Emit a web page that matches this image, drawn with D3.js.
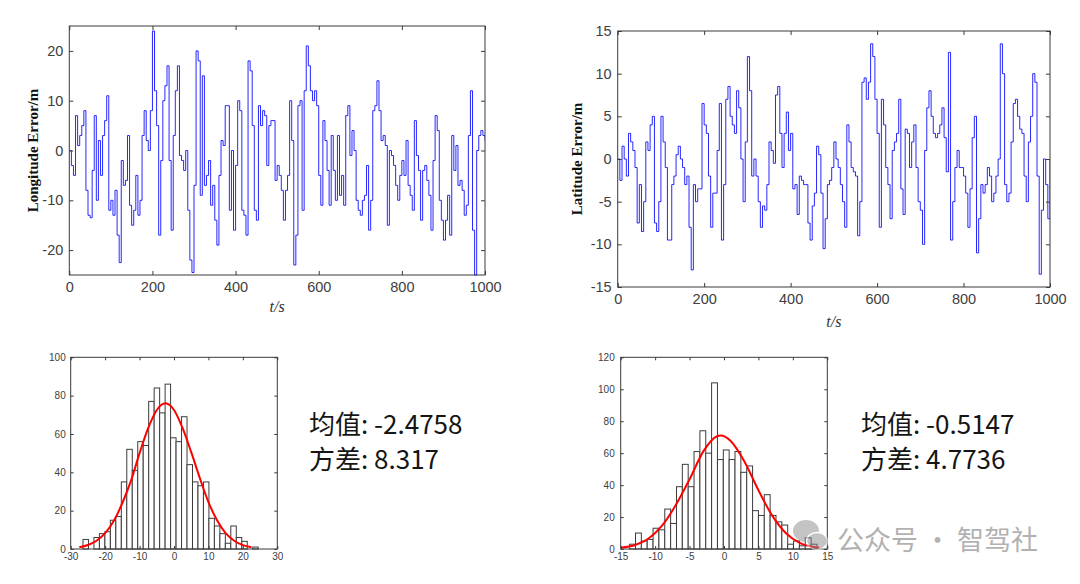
<!DOCTYPE html>
<html>
<head>
<meta charset="utf-8">
<script src="https://cdn.jsdelivr.net/npm/d3@7"></script>
<style>
  body { margin: 0; background: #fff; }
  svg { display: block; }
</style>
</head>
<body>
<svg id="chart" width="1080" height="584"></svg>
<script>

// errors sampled every 5 s, t = 0 .. 1000
const lonErr = [
  0, -3, -5, 7, 1, 3, 5, 8, -8, -13,
  -13.5, -4, 7, -10, 2, -5, 3, 6, 11, -12,
  -10, -13, -8, -17, -22.5, -2, -7, -6, 3, -11,
  -15, -12, -5, -13, -10, 3, 8, 2, 0, 8,
  24, 12, 5, -17, -2, 10, 13, 17, -2, -16,
  3, 12, 17, -1, -2, -4, 0, -12, -22, -24.5,
  -7, 20, 18, -9, 15, -7, -5, -2, -11, -7,
  -14, -19, -5, 2, 1, 9, 9, -12, 0, -16,
  -3, 10, 8, -12, -13, -17, 18, 16, 5, -12,
  -14, 9, 5, 8, 7, -3, 5, 6, 6, -6,
  -3, -5, -8, -14, -8, -5, 10, 2, -23, -17,
  9, 10, -12, 12, 21, 17, 12, 10, 12, 9,
  -5, -11, 6, 2, -4, -11, 3, -4, -10, 3,
  -9, -5, -11, 7, 9, -1, 4, 0, -10, -12,
  -13, -10, -9, -3, -16, -10, 8, 9, 14, 8,
  2, 3, 1, -15, 0, -1, -3, -7, -10, -5,
  -2, -5, 2, -7, -9, -12, 6, -1, -4, -14,
  -4, -3, -6, -9, -16, -2, 7, 4, -10, -14,
  -18, -14, -9, -17, 3, -4, 1, -7, -6, -8,
  -13, -11, 3, 12, -16, -25, 0, 3, 4, 3,
  2
];

const latErr = [
  0, -2.5, 1.5, 0, -2, 3, 2, 1, -1, -7.5,
  -3, -8.5, -5, 2, 1, 4, 5, -7.5, -8.5, -5,
  5, 2, -1, -9.5, -9.5, -3, -2, 0.5, 1.5, 0,
  -1, -3, -2, -8, -13, -3, -5, -3.5, -3.5, 6.5,
  4, 3, -2, -8, -4, -4, 1, 6.5, -9.5, -3,
  7, 8.5, 5, 4, 3, 8, 6, 0, -5, 2,
  12, 8, -2, 0, -2, -5, -8, -5.5, -6, -3,
  2, 1, -0.5, 7.5, 8.5, 3, -1, 3, 5.5, 1,
  3, -3.5, -3, -6.5, -2, -2.5, -3, -3, -7.5, -9.5,
  -5.5, -4, 1.5, 0.5, -4, -10.5, -7, -3, -2.5, -1,
  2, 0, -1, -3, -5, -8, 4, 2, -1, -1.5,
  -2, -9, -5, 9, 9.5, 7, 9, 13.5, 12, 7,
  3, -8, 7, 4, -1, -3, -7, 1, 2, 3,
  7, -3.5, -6.5, 3.5, 3, -1, 2, 4, -1, -5,
  -6, -10, 1, 6, 8, 5, 3, 2.5, 3, 4,
  6, 2.5, -1.5, 12.5, -9.5, -5, -1, 1, -1, -1,
  -2, -4, -8, -3.5, 2.5, 5, -11, -7, -3, -4,
  -3, -1, -2, -5, -4, -2, 0, 13.5, 10, -3,
  -5, -4, 2, 6.5, 7, 5, 3.5, 3, -2, -5,
  2, 5, 10, 9, -2, -13.5, -6, 0, -3, -7,
  0
];
const timeStep = 5;

const timeTicks = [0, 200, 400, 600, 800, 1000];
const lonTicks = [-20, -10, 0, 10, 20];
const latTicks = [-15, -10, -5, 0, 5, 10, 15];

// histograms (32 bins each)
const lonBinStart = -26.43;
const lonBinWidth = 1.59;
const lonCounts = [5, 0, 6, 8, 9, 15, 17, 35, 52, 41, 56, 54, 77, 84, 71, 86,
                   58, 56, 69, 44, 35, 33, 35, 16, 12, 8, 3, 12, 6, 4, 0, 1];
const latBinStart = -13.7;
const latBinWidth = 0.85;
const latCounts = [3, 10, 5, 6, 13, 12, 25, 16, 39, 53, 39, 61, 74, 60, 104, 56,
                   62, 56, 61, 48, 52, 24, 21, 34, 21, 17, 15, 3, 5, 2, 7, 3];

// red fitted curves
const lonFitX = [-27.5, -25, -22.5, -20, -17.5, -15, -12.5, -10, -7.5, -5, -2.5, 0, 2.5, 5, 7.5, 10, 12.5, 15, 17.5, 20, 22.5];
const lonFitY = [0.9, 2.1, 4.3, 8.3, 14.6, 24, 35.5, 50, 63, 72.5, 76, 72.5, 63, 50.5, 37, 24.5, 15, 8.3, 4.3, 2, 0.9];
const latFitX = [-15, -13, -11, -9, -7, -5, -3, -1, -0.5, 1, 3, 5, 7, 9, 11, 13, 13.8];
const latFitY = [0.8, 2.3, 6.4, 14.6, 27.5, 43.6, 61.1, 70.6, 71, 67.5, 54.5, 36.8, 20.9, 9.9, 3.9, 1.3, 0.8];

const lonHistXTicks = [-30, -20, -10, 0, 10, 20, 30];
const lonHistYTicks = [0, 20, 40, 60, 80, 100];
const latHistXTicks = [-15, -10, -5, 0, 5, 10, 15];
const latHistYTicks = [0, 20, 40, 60, 80, 100, 120];

const lonStats = ['均值: -2.4758', '方差: 8.317'];
const latStats = ['均值: -0.5147', '方差: 4.7736'];
const watermark = '公众号 · 智驾社';


const svg = d3.select('#chart');
const AXIS_COLOR = '#3a3a3a';
const LABEL_COLOR = '#404040';


// box with inward ticks on all four sides, labels only bottom and left
const drawFrame = (g, x, y, xTicks, yTicks, opt) => {
  const [x0, x1] = x.range();
  const [yb, yt] = y.range();
  const fmt = (d) => String(d);

  const axes = [
    g.append('g').attr('transform', `translate(0,${yb})`)
      .call(d3.axisBottom(x).tickValues(xTicks).tickSize(-opt.tick).tickPadding(opt.padX).tickFormat(fmt)),
    g.append('g').attr('transform', `translate(${x0},0)`)
      .call(d3.axisLeft(y).tickValues(yTicks).tickSize(-opt.tick).tickPadding(opt.padY).tickFormat(fmt)),
    g.append('g').attr('transform', `translate(0,${yt})`)
      .call(d3.axisTop(x).tickValues(xTicks).tickSize(-opt.tick).tickFormat('')),
    g.append('g').attr('transform', `translate(${x1},0)`)
      .call(d3.axisRight(y).tickValues(yTicks).tickSize(-opt.tick).tickFormat(''))
  ];

  axes.forEach((a) => {
    a.select('.domain').remove();
    a.selectAll('line').attr('stroke', AXIS_COLOR);
    a.selectAll('text')
      .style('font-family', '"Liberation Sans", Arial, sans-serif')
      .style('font-size', opt.font + 'px')
      .attr('fill', LABEL_COLOR);
  });

  g.append('rect')
    .attr('x', x0).attr('y', yt)
    .attr('width', x1 - x0).attr('height', yb - yt)
    .attr('fill', 'none')
    .attr('stroke', AXIS_COLOR)
    .attr('stroke-width', 1);
};


const drawSeries = (cfg) => {
  const g = svg.append('g');
  const x = d3.scaleLinear().domain([0, 1000]).range([cfg.left, cfg.right]);
  const y = d3.scaleLinear().domain(cfg.yDomain).range([cfg.bottom, cfg.top]);

  const clipId = cfg.id + 'Clip';
  g.append('clipPath').attr('id', clipId)
    .append('rect')
      .attr('x', cfg.left).attr('y', cfg.top - 1)
      .attr('width', cfg.right - cfg.left).attr('height', cfg.bottom - cfg.top + 2);

  const line = d3.line()
      .x((d, i) => x(i * timeStep))
      .y((d) => y(d))
      .curve(d3.curveStepAfter);

  g.append('path')
    .datum(cfg.values)
    .attr('clip-path', `url(#${clipId})`)
    .attr('d', line)
    .attr('fill', 'none')
    .attr('stroke', '#0000ff')
    .attr('stroke-width', 0.85)
    .attr('stroke-linejoin', 'miter');

  drawFrame(g, x, y, timeTicks, cfg.yTicks, { tick: 4, padX: 7, padY: 6, font: 14.5 });

  // y label, bold serif like the original figure
  g.append('text')
    .attr('transform', `translate(${cfg.yLabelX},${(cfg.top + cfg.bottom) / 2}) rotate(-90)`)
    .attr('text-anchor', 'middle')
    .attr('dy', '0.35em')
    .style('font-family', '"Liberation Serif", "Times New Roman", serif')
    .style('font-weight', 700)
    .style('font-size', '15px')
    .attr('fill', '#111')
    .text(cfg.yLabel);

  g.append('text')
    .attr('x', (cfg.left + cfg.right) / 2)
    .attr('y', cfg.xLabelY)
    .attr('text-anchor', 'middle')
    .style('font-family', '"Liberation Serif", "Times New Roman", serif')
    .style('font-style', 'italic')
    .style('font-size', '16px')
    .attr('fill', '#333')
    .text('t/s');
};


const drawHist = (cfg) => {
  const g = svg.append('g');
  const x = d3.scaleLinear().domain(cfg.xDomain).range([cfg.left, cfg.right]);
  const y = d3.scaleLinear().domain(cfg.yDomain).range([cfg.bottom, cfg.top]);

  const bins = cfg.counts.map((c, i) => ({
    x0: cfg.binStart + i * cfg.binWidth,
    x1: cfg.binStart + (i + 1) * cfg.binWidth,
    count: c
  }));

  g.selectAll('rect.bar')
    .data(bins)
    .enter()
    .append('rect')
      .attr('class', 'bar')
      .attr('x', (d) => x(d.x0))
      .attr('width', (d) => x(d.x1) - x(d.x0))
      .attr('y', (d) => y(d.count))
      .attr('height', (d) => y(0) - y(d.count))
      .attr('fill', '#fff')
      .attr('stroke', '#3c3c3c')
      .attr('stroke-width', 1);

  const fit = d3.line()
      .x((d) => x(d[0]))
      .y((d) => y(d[1]))
      .curve(d3.curveMonotoneX);

  g.append('path')
    .datum(d3.zip(cfg.fitX, cfg.fitY))
    .attr('d', fit)
    .attr('fill', 'none')
    .attr('stroke', '#ff0000')
    .attr('stroke-width', 2);

  drawFrame(g, x, y, cfg.xTicks, cfg.yTicks, { tick: 3, padX: 4, padY: cfg.padY, font: 10 });

  // mean / std text beside the histogram
  svg.append('g')
    .selectAll('text')
    .data(cfg.stats)
    .enter()
    .append('text')
      .attr('x', cfg.statsX)
      .attr('y', (d, i) => cfg.statsY + i * 35)
      .style('font-family', '"Noto Sans CJK SC", "Noto Sans", sans-serif')
      .style('font-size', '26px')
      .attr('fill', '#151515')
      .text((d) => d);
};


drawSeries({
  id: 'lon', values: lonErr, yDomain: [-25, 25], yTicks: lonTicks,
  left: 69.3, right: 485, top: 26, bottom: 275,
  yLabel: 'Longitude Error/m', yLabelX: 33, xLabelY: 312
});

drawSeries({
  id: 'lat', values: latErr, yDomain: [-15, 15], yTicks: latTicks,
  left: 617.7, right: 1050, top: 31, bottom: 287,
  yLabel: 'Latitude Error/m', yLabelX: 577, xLabelY: 327
});

drawHist({
  counts: lonCounts, binStart: lonBinStart, binWidth: lonBinWidth,
  fitX: lonFitX, fitY: lonFitY,
  xDomain: [-30, 30], yDomain: [0, 100], xTicks: lonHistXTicks, yTicks: lonHistYTicks,
  left: 70.7, right: 277.3, top: 357.3, bottom: 549, padY: 5,
  stats: lonStats, statsX: 309, statsY: 434
});

drawHist({
  counts: latCounts, binStart: latBinStart, binWidth: latBinWidth,
  fitX: latFitX, fitY: latFitY,
  xDomain: [-15, 15], yDomain: [0, 120], xTicks: latHistXTicks, yTicks: latHistYTicks,
  left: 620.7, right: 827.3, top: 357.3, bottom: 549, padY: 6,
  stats: latStats, statsX: 861, statsY: 434
});


// watermark: chat-bubble icon + account name
const mark = svg.append('g').attr('opacity', 0.5);
mark.append('ellipse')
  .attr('cx', 806).attr('cy', 531).attr('rx', 13).attr('ry', 11)
  .attr('fill', '#8a8a8a');
mark.append('ellipse')
  .attr('cx', 817).attr('cy', 541).attr('rx', 10.5).attr('ry', 8.5)
  .attr('fill', '#8a8a8a')
  .attr('stroke', '#fff')
  .attr('stroke-width', 1.5);
mark.append('text')
  .attr('x', 837)
  .attr('y', 550)
  .style('font-family', '"Noto Sans CJK SC", sans-serif')
  .style('font-size', '27px')
  .attr('fill', '#666')
  .text(watermark);

</script>
</body>
</html>
